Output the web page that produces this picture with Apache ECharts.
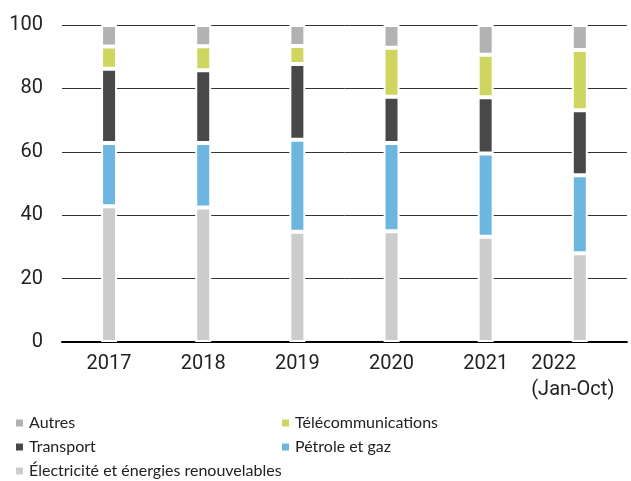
<!DOCTYPE html>
<html>
<head>
<meta charset="utf-8">
<script src="https://cdn.jsdelivr.net/npm/echarts@6/dist/echarts.min.js"></script>
<style>
  html, body { margin: 0; padding: 0; background: #fff; }
  #chart { width: 631px; height: 481px; }
</style>
</head>
<body>
<div id="chart"></div>
<script>
// years (last one is partial)
var categories = ['2017', '2018', '2019', '2020', '2021', '2022\n(Jan-Oct)'];
var yTicks = [0, 20, 40, 60, 80, 100];

// share in %, bottom to top
var electricite = [42.8, 42.4, 34.8, 34.9, 33.2, 28.0];
var petrole = [20.0, 20.4, 29.0, 27.9, 26.3, 24.6];
var transport = [23.4, 22.9, 23.9, 14.6, 17.7, 20.5];
var telecom = [7.0, 7.6, 5.7, 15.4, 13.4, 19.0];
var autres = [6.8, 6.7, 6.6, 7.2, 9.4, 7.9];

var font = 'Roboto';
var chart = echarts.init(document.getElementById('chart'));

function bar(name, data, color) {
  return {
    name: name,
    type: 'bar',
    stack: 'total',
    data: data,
    barWidth: 16,
    itemStyle: { color: color, borderColor: '#fff', borderWidth: 2 },
    emphasis: { disabled: true }
  };
}

var legendText = { fontFamily: 'Lato', fontSize: 16, color: '#222', lineHeight: 16 };

chart.setOption({
  animation: false,
  grid: { left: 62, right: 0, top: 25, bottom: 139 },
  legend: [{
    left: 14, top: 415, orient: 'vertical', icon: 'rect', height: 80,
    itemWidth: 9, itemHeight: 9, itemGap: 8, padding: 0,
    textStyle: legendText,
    data: ['Autres', 'Transport', 'Électricité et énergies renouvelables']
  }, {
    left: 280, top: 415, orient: 'vertical', icon: 'rect', height: 80,
    itemWidth: 9, itemHeight: 9, itemGap: 8, padding: 0,
    textStyle: legendText,
    data: ['Télécommunications', 'Pétrole et gaz']
  }],
  xAxis: {
    type: 'category',
    data: categories,
    axisLine: { lineStyle: { color: '#000', width: 2 } },
    axisTick: { show: false },
    axisLabel: {
      interval: 0,
      fontFamily: font, fontSize: 20, color: '#222', margin: 9, lineHeight: 26,
      formatter: function (v) {
        if (v.indexOf('\n') < 0) return v;
        return v.split('\n').map(function (s) { return '{l|' + s + '}'; }).join('\n');
      },
      rich: { l: { fontFamily: font, fontSize: 20, color: '#222', align: 'left', lineHeight: 26, padding: [0, 14, 0, 0] } }
    }
  },
  yAxis: {
    type: 'value',
    min: yTicks[0], max: yTicks[yTicks.length - 1], interval: 20,
    axisLine: { show: false },
    axisTick: { show: false },
    axisLabel: { fontFamily: font, fontSize: 20, color: '#222', margin: 19 },
    splitLine: { lineStyle: { color: '#333', width: 1 } }
  },
  series: [
    bar('Électricité et énergies renouvelables', electricite, '#cccccc'),
    bar('Pétrole et gaz', petrole, '#6cb6e0'),
    bar('Transport', transport, '#484848'),
    bar('Télécommunications', telecom, '#cfd65f'),
    bar('Autres', autres, '#b2b2b2')
  ]
});
</script>
</body>
</html>
